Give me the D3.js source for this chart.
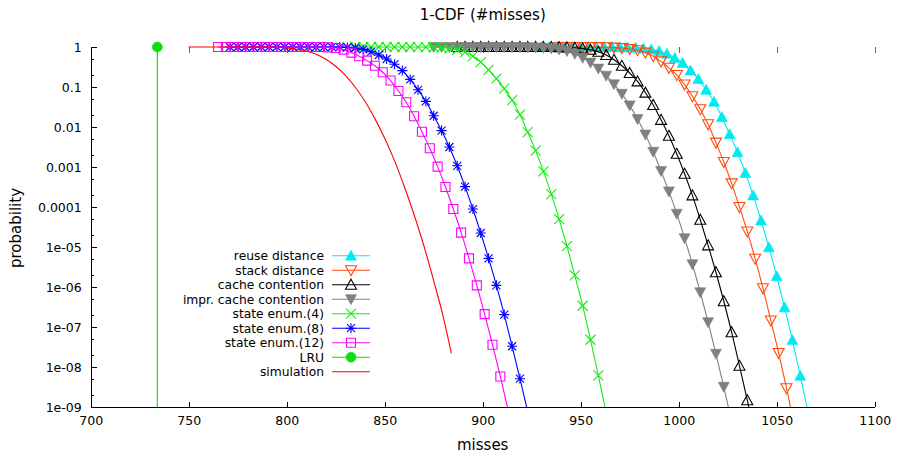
<!DOCTYPE html>
<html>
<head>
<meta charset="utf-8">
<script src="https://cdn.jsdelivr.net/npm/d3@7"></script>
<style>
  html, body { margin: 0; padding: 0; background: #fff; }
  svg { display: block; font-family: "DejaVu Sans", sans-serif; }
</style>
</head>
<body>
<svg id="chart" width="898" height="457"></svg>
<script>
// ---- axis ticks ----
const xTicks = [700, 750, 800, 850, 900, 950, 1000, 1050, 1100];
const yTicks = [1, 0.1, 0.01, 0.001, 0.0001, 1e-5, 1e-6, 1e-7, 1e-8, 1e-9];
const yTickLabels = ["1", "0.1", "0.01", "0.001", "0.0001", "1e-05", "1e-06", "1e-07", "1e-08", "1e-09"];
const yMinorTicks = [0.5, 0.2, 0.05, 0.02, 0.005, 0.002, 5e-4, 2e-4, 5e-5, 2e-5,
                     5e-6, 2e-6, 5e-7, 2e-7, 5e-8, 2e-8, 5e-9, 2e-9];

// ---- series: number of misses and 1-CDF probability ----
const reuseMisses = [930, 934, 938, 942, 946, 950, 954, 958, 962, 966, 970, 974, 978, 982, 986, 990, 994, 998,
  1002, 1006, 1010, 1014, 1018, 1022, 1026, 1030, 1034, 1038, 1042, 1046, 1050, 1054, 1058, 1062, 1066];
const reuseProb = [1, 1, 1, 1, 1, 1, 1, 1, 0.998, 0.995, 0.989, 0.977, 0.955, 0.923, 0.871, 0.794, 0.676, 0.531,
  0.398, 0.257, 0.158, 0.0851, 0.0427, 0.0178, 0.0066, 0.00234, 7.1e-4, 1.95e-4, 4.6e-5, 9.8e-6, 1.86e-6, 3.1e-7,
  4.7e-8, 6.0e-9, 7.6e-10];

const stackMisses = [939, 943, 947, 951, 955, 959, 963, 967, 971, 975, 979, 983, 987, 991, 995, 999, 1003, 1007,
  1011, 1015, 1019, 1023, 1027, 1031, 1035, 1039, 1043, 1047, 1051, 1055, 1059];
const stackProb = [1, 1, 1, 1, 0.995, 0.991, 0.982, 0.966, 0.94, 0.895, 0.832, 0.724, 0.589, 0.437, 0.302, 0.2,
  0.115, 0.0589, 0.0279, 0.0117, 0.00407, 0.00133, 3.9e-4, 1.0e-4, 2.45e-5, 5.1e-6, 9.3e-7, 1.45e-7, 2.24e-8,
  2.95e-9, 3.5e-10];

const cacheMisses = [887, 891, 895, 899, 903, 907, 911, 915, 919, 923, 927, 931, 935, 939, 943, 947, 951, 955,
  959, 963, 967, 971, 975, 979, 983, 987, 991, 995, 999, 1003, 1007, 1011, 1015, 1019, 1023, 1027, 1031, 1035, 1039];
const cacheProb = [1, 1, 1, 1, 1, 1, 1, 1, 1, 1, 1, 1, 0.998, 0.991, 0.977, 0.955, 0.912, 0.851, 0.759, 0.631,
  0.479, 0.339, 0.224, 0.138, 0.0724, 0.0355, 0.0151, 0.00603, 0.00214, 6.8e-4, 1.95e-4, 4.8e-5, 1.1e-5, 2.34e-6,
  4.4e-7, 7.4e-8, 1.07e-8, 1.48e-9, 2e-10];

const imprMisses = [875, 879, 883, 887, 891, 895, 899, 903, 907, 911, 915, 919, 923, 927, 931, 935, 939, 943,
  947, 951, 955, 959, 963, 967, 971, 975, 979, 983, 987, 991, 995, 999, 1003, 1007, 1011, 1015, 1019, 1023, 1027];
const imprProb = [1, 1, 1, 1, 1, 1, 1, 1, 1, 1, 1, 0.995, 0.989, 0.977, 0.955, 0.923, 0.871, 0.794, 0.676,
  0.537, 0.407, 0.288, 0.191, 0.117, 0.0676, 0.0347, 0.0158, 0.00646, 0.0024, 7.9e-4, 2.45e-4, 6.8e-5, 1.66e-5,
  3.7e-6, 7.4e-7, 1.32e-7, 2.14e-8, 3.2e-9, 4.3e-10];

const enum4Misses = [831, 835, 839, 843, 847, 851, 855, 859, 863, 867, 871, 875, 879, 883, 887, 891, 895, 899,
  903, 907, 911, 915, 919, 923, 927, 931, 935, 939, 943, 947, 951, 955, 959, 963];
const enum4Prob = [1, 1, 1, 1, 1, 1, 1, 1, 1, 0.999, 0.998, 0.986, 0.966, 0.923, 0.851, 0.741, 0.589, 0.417,
  0.269, 0.162, 0.0912, 0.0468, 0.0204, 0.00741, 0.00257, 7.8e-4, 2.09e-4, 5.0e-5, 1.05e-5, 1.95e-6, 3.4e-7,
  4.8e-8, 6.2e-9, 7.1e-10];

const enum8Misses = [771, 775, 779, 783, 787, 791, 795, 799, 803, 807, 811, 815, 819, 823, 827, 831, 835, 839,
  843, 847, 851, 855, 859, 863, 867, 871, 875, 879, 883, 887, 891, 895, 899, 903, 907, 911, 915, 919, 923];
const enum8Prob = [1, 1, 1, 1, 1, 1, 1, 1, 1, 1, 1, 1, 1, 1, 0.998, 0.977, 0.944, 0.871, 0.759, 0.631, 0.501,
  0.372, 0.257, 0.155, 0.0851, 0.0437, 0.0191, 0.00813, 0.00316, 0.00107, 3.24e-4, 8.9e-5, 2.24e-5, 5.2e-6,
  1.1e-6, 2.04e-7, 3.3e-8, 5.1e-9, 7.6e-10];

const enum12Misses = [765, 769, 773, 777, 781, 785, 789, 793, 797, 801, 805, 809, 813, 817, 821, 825, 829, 833,
  837, 841, 845, 849, 853, 857, 861, 865, 869, 873, 877, 881, 885, 889, 893, 897, 901, 905, 909, 913];
const enum12Prob = [1, 1, 1, 1, 1, 1, 1, 1, 1, 1, 1, 1, 1, 0.998, 0.977, 0.944, 0.861, 0.724, 0.589, 0.457,
  0.339, 0.234, 0.145, 0.0794, 0.0417, 0.0186, 0.00759, 0.00295, 0.00102, 3.16e-4, 8.9e-5, 2.29e-5, 5.2e-6,
  1.1e-6, 2.1e-7, 3.6e-8, 5.8e-9, 8.3e-10];

// LRU is deterministic: probability 1 up to its miss count, 0 beyond
const lruMisses = [734, 734];
const lruProb = [1, 0];

const simMisses = [750, 770, 780, 790, 795, 800, 805, 810, 815, 820, 825, 830, 835, 840, 845, 850, 855, 860,
  865, 870, 875, 880, 884];
const simProb = [1, 1, 0.9995, 0.994, 0.983, 0.953, 0.894, 0.797, 0.659, 0.492, 0.33, 0.195, 0.0985, 0.0436,
  0.0162, 0.00523, 0.00144, 3.25e-4, 6.4e-5, 1.07e-5, 1.43e-6, 1.7e-7, 2.2e-8];

const seriesNames = ["reuse distance", "stack distance", "cache contention", "impr. cache contention",
  "state enum.(4)", "state enum.(8)", "state enum.(12)", "LRU", "simulation"];

// ---- drawing ----
const series = [
  { misses: reuseMisses,  prob: reuseProb,  color: "#00eaf2", marker: "triUpFilled" },
  { misses: stackMisses,  prob: stackProb,  color: "#ff4a0a", marker: "triDownOpen" },
  { misses: cacheMisses,  prob: cacheProb,  color: "#000000", marker: "triUpOpen" },
  { misses: imprMisses,   prob: imprProb,   color: "#808080", marker: "triDownFilled" },
  { misses: enum4Misses,  prob: enum4Prob,  color: "#11ee11", marker: "cross" },
  { misses: enum8Misses,  prob: enum8Prob,  color: "#0000ff", marker: "star" },
  { misses: enum12Misses, prob: enum12Prob, color: "#ff00ff", marker: "square" },
  { misses: lruMisses,    prob: lruProb,    color: "#11dd11", marker: "circle" },
  { misses: simMisses,    prob: simProb,    color: "#ff0000", marker: null }
].map((s, i) => ({ ...s, name: seriesNames[i] }));

const plot = { left: 90.7, right: 874.7, top: 47, bottom: 407 };
const svg = d3.select("#chart");

const x = d3.scaleLinear().domain([700, 1100]).range([plot.left, plot.right]);
const y = d3.scaleLog().domain([1e-9, 1]).range([plot.bottom, plot.top]);
const yPos = p => (p > 0 ? y(p) : plot.bottom + 20);

svg.append("defs").append("clipPath").attr("id", "plotClip")
  .append("rect")
  .attr("x", plot.left).attr("y", plot.top - 6)
  .attr("width", plot.right - plot.left).attr("height", plot.bottom - plot.top + 6);

function markerPath(kind, cx, cy) {
  const s = 5.5;
  switch (kind) {
    case "triUpFilled":
    case "triUpOpen":
      return `M${cx},${cy - s}L${cx + s},${cy + 4.5}L${cx - s},${cy + 4.5}Z`;
    case "triDownFilled":
    case "triDownOpen":
      return `M${cx},${cy + s}L${cx + s},${cy - 4.5}L${cx - s},${cy - 4.5}Z`;
    case "square":
      return `M${cx - 4.5},${cy - 4.5}h9v9h-9Z`;
    case "cross":
      return `M${cx - 5},${cy - 5}L${cx + 5},${cy + 5}M${cx - 5},${cy + 5}L${cx + 5},${cy - 5}`;
    case "star":
      return `M${cx - 5},${cy}H${cx + 5}M${cx},${cy - 5}V${cy + 5}` +
             `M${cx - 4},${cy - 4}L${cx + 4},${cy + 4}M${cx - 4},${cy + 4}L${cx + 4},${cy - 4}`;
    case "circle":
      return `M${cx - 5},${cy}a5,5 0 1,0 10,0a5,5 0 1,0 -10,0Z`;
  }
  return "";
}
const filledKinds = new Set(["triUpFilled", "triDownFilled", "circle"]);

function drawMarker(g, kind, cx, cy, color) {
  const filled = filledKinds.has(kind);
  g.append("path")
    .attr("d", markerPath(kind, cx, cy))
    .attr("fill", filled ? color : "none")
    .attr("stroke", color)
    .attr("stroke-width", filled ? 0.6 : 1.1);
}

// axes
const axisG = svg.append("g").attr("font-family", "DejaVu Sans, sans-serif");

const xAxis = axisG.append("g")
  .attr("transform", `translate(0,${plot.bottom})`)
  .call(d3.axisBottom(x).tickValues(xTicks).tickSize(-5).tickSizeOuter(0).tickPadding(9)
    .tickFormat(d3.format("d")));

const yAxis = axisG.append("g")
  .attr("transform", `translate(${plot.left},0)`)
  .call(d3.axisLeft(y).tickValues(yTicks).tickSize(-6).tickSizeOuter(0).tickPadding(9)
    .tickFormat((d, i) => yTickLabels[i]));

const yMinor = axisG.append("g")
  .attr("transform", `translate(${plot.left},0)`)
  .call(d3.axisLeft(y).tickValues(yMinorTicks).tickSize(-3).tickFormat(""));
yMinor.select(".domain").remove();

const xTop = axisG.append("g")
  .attr("transform", `translate(0,${plot.top})`)
  .call(d3.axisTop(x).tickValues(xTicks.slice(1)).tickSize(-6).tickFormat(""));
xTop.select(".domain").remove();
xTop.selectAll("line").attr("stroke", "#666");

[xAxis, yAxis].forEach(a => {
  a.selectAll("text").attr("font-size", "12.5px").attr("fill", "#000").attr("font-family", "DejaVu Sans, sans-serif");
});
axisG.selectAll("path.domain, line").attr("shape-rendering", "crispEdges");

// title and axis labels
svg.append("text").attr("x", 482.7).attr("y", 20).attr("text-anchor", "middle")
  .attr("font-size", "15px").text("1-CDF (#misses)");
svg.append("text").attr("x", 482.7).attr("y", 450).attr("text-anchor", "middle")
  .attr("font-size", "15px").text("misses");
svg.append("text").attr("transform", "translate(21,228) rotate(-90)").attr("text-anchor", "middle")
  .attr("font-size", "15px").text("probability");

// data
const lineGen = d3.line()
  .x(d => x(d[0]))
  .y(d => yPos(d[1]))
  .curve(d3.curveMonotoneX);

const dataG = svg.append("g");
series.forEach(s => {
  const pts = s.misses.map((m, i) => [m, s.prob[i]]);
  const g = dataG.append("g");
  if (s.marker === "circle") {
    // vertical step of a deterministic policy
    g.append("line")
      .attr("clip-path", "url(#plotClip)")
      .attr("x1", x(pts[0][0])).attr("x2", x(pts[1][0]))
      .attr("y1", yPos(pts[0][1])).attr("y2", yPos(pts[1][1]))
      .attr("stroke", s.color).attr("stroke-width", 1.2);
  } else {
    g.append("path")
      .attr("clip-path", "url(#plotClip)")
      .attr("d", lineGen(pts))
      .attr("fill", "none")
      .attr("stroke", s.color)
      .attr("stroke-width", 1.1);
  }
  if (s.marker) {
    pts.filter(d => d[1] >= 1e-9 && d[1] <= 1).forEach(d => {
      drawMarker(g, s.marker, x(d[0]), y(d[1]), s.color);
    });
  }
});

// legend
const legendG = svg.append("g");
const legend = { textRight: 324, lineX0: 332, lineX1: 370, y0: 255.7, dy: 14.5 };
series.forEach((s, i) => {
  const ly = legend.y0 + i * legend.dy;
  legendG.append("text")
    .attr("x", legend.textRight).attr("y", ly).attr("dy", "0.35em")
    .attr("text-anchor", "end").attr("font-size", "12.3px").attr("fill", "#000")
    .text(s.name);
  legendG.append("line")
    .attr("x1", legend.lineX0).attr("x2", legend.lineX1)
    .attr("y1", ly).attr("y2", ly)
    .attr("stroke", s.color).attr("stroke-width", 1.1);
  if (s.marker) drawMarker(legendG, s.marker, (legend.lineX0 + legend.lineX1) / 2, ly, s.color);
});
</script>
</body>
</html>
